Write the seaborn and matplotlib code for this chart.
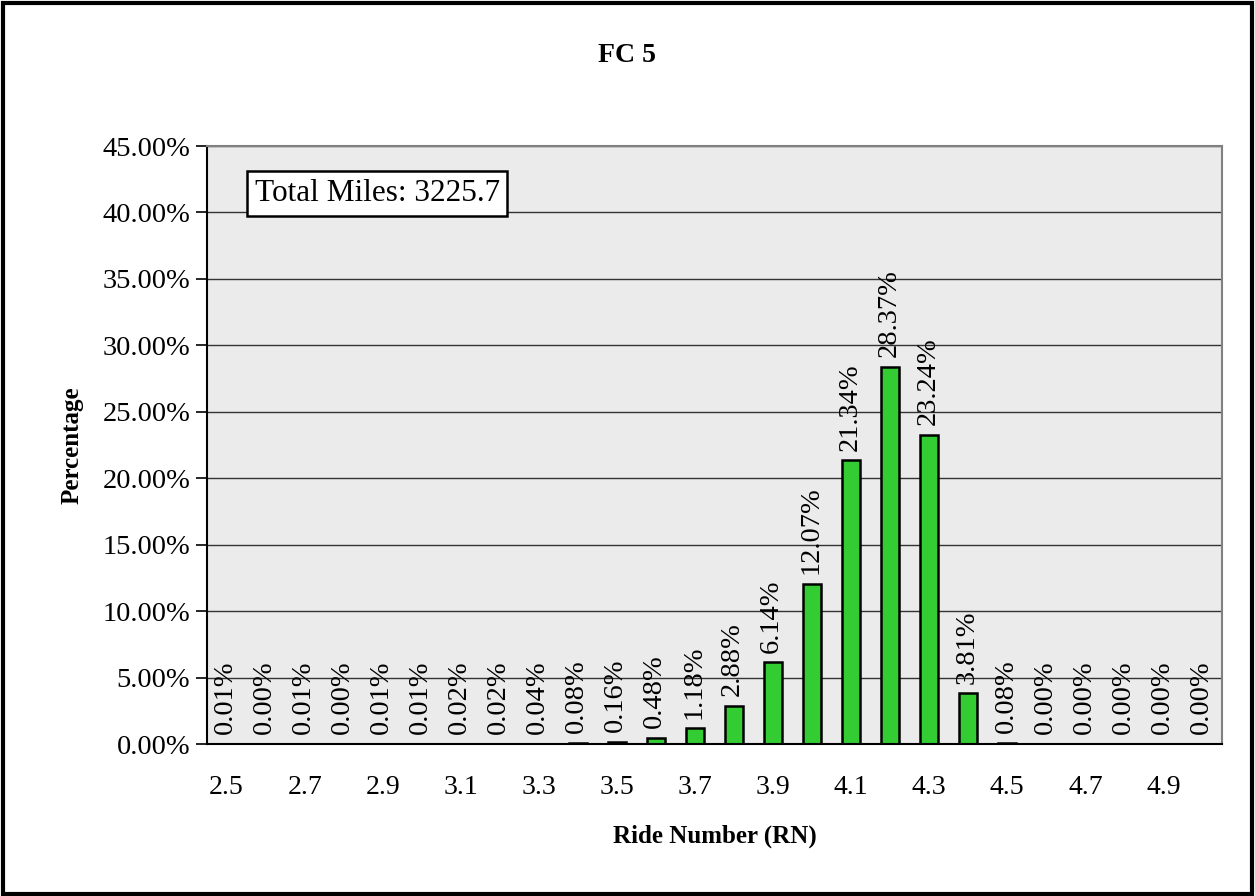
import matplotlib
matplotlib.use("Agg")
import matplotlib.pyplot as plt
import seaborn as sns
import pandas as pd
from matplotlib.patches import Rectangle
from matplotlib.ticker import FuncFormatter, FixedLocator

categories = ["2.5", "2.6", "2.7", "2.8", "2.9", "3.0", "3.1", "3.2", "3.3", "3.4",
              "3.5", "3.6", "3.7", "3.8", "3.9", "4.0", "4.1", "4.2", "4.3", "4.4",
              "4.5", "4.6", "4.7", "4.8", "4.9", "5.0"]
percentages = [0.01, 0.00, 0.01, 0.00, 0.01, 0.01, 0.02, 0.02, 0.04, 0.08,
               0.16, 0.48, 1.18, 2.88, 6.14, 12.07, 21.34, 28.37, 23.24, 3.81,
               0.08, 0.00, 0.00, 0.00, 0.00, 0.00]
title = "FC 5"
x_label = "Ride Number (RN)"
y_label = "Percentage"
total_text = "Total Miles: 3225.7"

sns.set_theme(style="white")
plt.rcParams["font.family"] = ["Liberation Serif", "DejaVu Serif"]
plt.rcParams["text.color"] = "black"
plt.rcParams["axes.labelcolor"] = "black"
plt.rcParams["xtick.color"] = "black"
plt.rcParams["ytick.color"] = "black"

df = pd.DataFrame({"RN": categories, "Pct": percentages})

fig = plt.figure(figsize=(12.55, 8.96), dpi=100)
ax = fig.add_axes([0.165, 0.1696, 0.8087, 0.6674])
ax.set_facecolor("#EBEBEB")

sns.barplot(data=df, x="RN", y="Pct", order=categories, color="#33CC33",
            edgecolor="black", linewidth=1.8, width=0.46, saturation=1, ax=ax)

ax.set_ylim(0, 45)
ax.set_xlim(-0.5, len(categories) - 0.5)
ax.yaxis.set_major_locator(FixedLocator(list(range(0, 46, 5))))
ax.yaxis.set_major_formatter(FuncFormatter(lambda v, p: f"{v:.2f}%"))
ax.grid(axis="y", color="#333333", linewidth=1.0)
ax.set_axisbelow(True)

major = list(range(0, len(categories), 2))
ax.set_xticks(major)
ax.set_xticklabels([categories[i] for i in major])
ax.set_xticks([i - 0.5 for i in range(len(categories) + 1)], minor=True)
ax.tick_params(axis="x", which="major", length=0, pad=22, labelsize=20, labelcolor="black")
ax.tick_params(axis="x", which="minor", length=8, width=1.2, color="black", direction="out")
ax.tick_params(axis="y", which="major", length=8, width=1.2, color="black",
               direction="out", labelsize=20.5, left=True, pad=4, labelcolor="black")

for s in ["left", "bottom"]:
    ax.spines[s].set_color("black")
    ax.spines[s].set_linewidth(1.5)
for s in ["top", "right"]:
    ax.spines[s].set_color("#808080")
    ax.spines[s].set_linewidth(1.5)
    ax.spines[s].set_visible(True)

for i, v in enumerate(percentages):
    ax.annotate(f"{v:.2f}%", xy=(i, v), xytext=(-1, 7), textcoords="offset points",
                rotation=90, ha="center", va="bottom", fontsize=20.5, color="black")

ax.set_xlabel(x_label, fontsize=18, fontweight="bold", labelpad=18, color="black")
ax.set_ylabel(y_label, fontsize=18, fontweight="bold", labelpad=14, color="black")
fig.text(0.5, 0.9386, title, ha="center", va="center", fontsize=20, fontweight="bold",
         color="black")

ax.text(0.1675, 0.921, total_text, transform=ax.transAxes, ha="center", va="center",
        fontsize=22.5, color="black",
        bbox=dict(boxstyle="square,pad=0.25", facecolor="white", edgecolor="black", linewidth=1.8))

fig.patches.append(Rectangle((0.002, 0.002), 0.996, 0.995, transform=fig.transFigure,
                             fill=False, edgecolor="black", linewidth=3))

fig.savefig("out.png", dpi=100)
